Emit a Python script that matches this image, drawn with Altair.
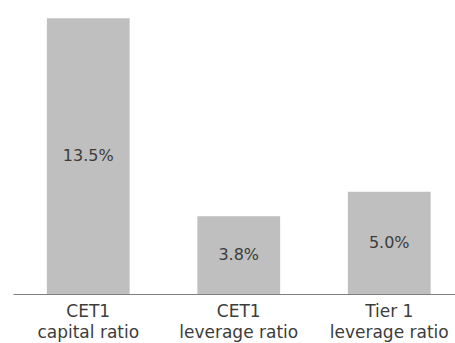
import altair as alt
import pandas as pd

# Capital and leverage ratios
categories = ["CET1|capital ratio", "CET1|leverage ratio", "Tier 1|leverage ratio"]
values = [13.5, 3.8, 5.0]
labels = ["13.5%", "3.8%", "5.0%"]

df = pd.DataFrame({"category": categories, "value": values, "label": labels})
df["mid"] = df["value"] / 2

FONT = "DejaVu Sans"
TEXT_COLOR = "#3c3c3c"

x_enc = alt.X(
    "category:N",
    sort=None,
    title=None,
    scale=alt.Scale(range=[0, 451.5], paddingInner=0.45, paddingOuter=0.225),
    axis=alt.Axis(
        labelExpr="split(datum.label, '|')",
        labelAngle=0,
        ticks=False,
        domainColor="#808080",
        domainWidth=1.2,
        labelFont=FONT,
        labelFontSize=17,
        labelColor=TEXT_COLOR,
        labelPadding=22,
        labelLineHeight=21,
        labelBaseline="alphabetic",
    ),
)

base = alt.Chart(df)

bars = base.mark_bar(color="#bfbfbf").encode(
    x=x_enc,
    y=alt.Y("value:Q", scale=alt.Scale(domain=[0, 14], nice=False), axis=None),
)

text = base.mark_text(font=FONT, fontSize=16, color=TEXT_COLOR, baseline="middle").encode(
    x=alt.X("category:N", sort=None),
    y=alt.Y("mid:Q"),
    text="label:N",
)

chart = (
    alt.layer(bars, text)
    .properties(
        width=442,
        height=286,
        background="white",
        autosize=alt.AutoSizeParams(type="none"),
        padding={"left": 13, "top": 8, "right": 0, "bottom": 49},
    )
    .configure_view(strokeWidth=0, stroke=None)
)

chart.save("out.html", embed_options={"renderer": "svg", "actions": False})
